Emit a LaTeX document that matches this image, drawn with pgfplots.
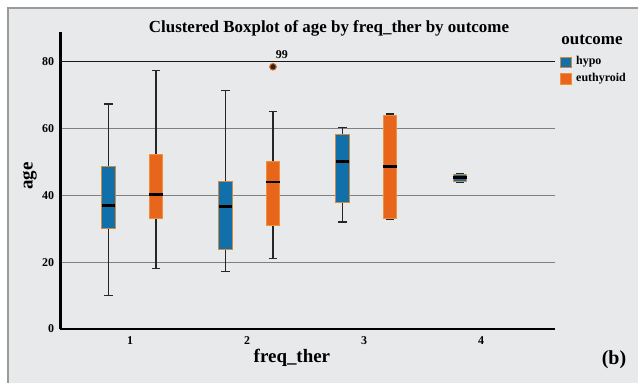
\documentclass[border=0pt]{standalone}
\usepackage{fontspec}
\setmainfont{Liberation Serif}
\usepackage{pgfplots}
\pgfplotsset{compat=1.18}
\usepgfplotslibrary{statistics}
\definecolor{bg}{HTML}{E8E9EB}
\definecolor{hypo}{HTML}{1170AA}
\definecolor{euth}{HTML}{E8661C}
\definecolor{hypoedge}{HTML}{D08A40}
\definecolor{euthedge}{HTML}{F0903A}
\definecolor{framec}{HTML}{9A9A9A}
\definecolor{gridc}{HTML}{808080}
\definecolor{whisk}{HTML}{262626}
\pgfplotsset{
  hypobox/.style={whisk, solid, mark=none,
     /pgfplots/boxplot/every box/.style={draw=hypoedge, fill=hypo, line width=0.8bp}},
  euthbox/.style={whisk, solid, mark=none,
     /pgfplots/boxplot/every box/.style={draw=euthedge, fill=euth, line width=0.8bp}},
}
\begin{document}
\begin{tikzpicture}
\useasboundingbox (0bp,0bp) rectangle (638bp,383bp);
\fill[white] (0bp,0bp) rectangle (638bp,383bp);
\fill[bg] (8bp,0bp) rectangle (638bp,375bp);
\draw[framec, line width=1.5bp] (8bp,-1bp) -- (8bp,375bp) -- (639bp,375bp);
\begin{axis}[
  at={(60.5bp,54bp)}, anchor=south west, scale only axis,
  width=494.5bp, height=297bp,
  xmin=0.406, xmax=4.632, ymin=0, ymax=88.8,
  axis lines=left, axis line style={-, black, line width=2bp},
  xtick={1,2,3,4}, ytick={0,20,40,60},
  extra y ticks={80},
  extra y tick style={major grid style={draw=black!90, line width=1.1bp}},
  major tick length=0pt,
  ymajorgrids, major grid style={draw=gridc, line width=1.1bp},
  /pgf/number format/assume math mode=true,
  tick label style={font=\bfseries\fontsize{12}{13}\selectfont},
  xticklabel style={yshift=-4bp},
  yticklabel style={xshift=-3bp},
  xlabel={freq\_ther}, ylabel={age},
  xlabel style={font=\bfseries\fontsize{19}{21}\selectfont, at={(axis description cs:0.468,-0.097)}, anchor=center},
  ylabel style={font=\bfseries\fontsize{19}{21}\selectfont, at={(axis description cs:-0.062,0.515)}, anchor=center},
  boxplot/draw direction=y,
  boxplot/box extend=0.114,
  boxplot/whisker extend=0.074,
  boxplot/every whisker/.style={draw=whisk, line width=1.2bp},
  boxplot/every median/.style={draw=black, line width=2.6bp},
  clip=false,
]
% group 1
\addplot[hypobox, boxplot prepared={draw position=0.815, lower whisker=10, lower quartile=30, median=37, upper quartile=48.5, upper whisker=67.3}] coordinates {};
\addplot[euthbox, boxplot prepared={draw position=1.222, lower whisker=18, lower quartile=33, median=40.2, upper quartile=52.2, upper whisker=77.2}] coordinates {};
% group 2
\addplot[hypobox, boxplot prepared={draw position=1.815, lower whisker=17.1, lower quartile=23.8, median=36.6, upper quartile=44, upper whisker=71.2}] coordinates {};
\addplot[euthbox, boxplot prepared={draw position=2.222, lower whisker=21, lower quartile=31.1, median=44, upper quartile=50.1, upper whisker=65}, mark=*, mark size=3.3bp, mark options={fill=black!85, draw=euth, line width=1bp}] coordinates {(0,78.4)};
% group 3
\addplot[hypobox, boxplot prepared={draw position=2.815, lower whisker=32, lower quartile=37.9, median=50.1, upper quartile=58.1, upper whisker=60.2}] coordinates {};
\addplot[euthbox, boxplot prepared={draw position=3.222, lower whisker=32.9, lower quartile=33.1, median=48.5, upper quartile=63.9, upper whisker=64.3}] coordinates {};
% group 4
\addplot[hypobox, boxplot prepared={draw position=3.82, lower whisker=43.7, lower quartile=44, median=45.3, upper quartile=46.2, upper whisker=46.4}] coordinates {};
\node[font=\bfseries\fontsize{12}{13}\selectfont] at (axis cs:2.297,82) {99};
\end{axis}
\node[font=\bfseries\fontsize{17}{19}\selectfont] at (329bp,355bp) {Clustered Boxplot of age by freq\_ther by outcome};
\node[font=\bfseries\fontsize{17}{19}\selectfont] at (592bp,343bp) {outcome};
% legend
\filldraw[draw=hypoedge, fill=hypo, line width=0.8bp] (560bp,316bp) rectangle (571bp,326bp);
\filldraw[draw=euthedge, fill=euth, line width=0.8bp] (560bp,299bp) rectangle (571bp,310bp);
\node[font=\bfseries\fontsize{12}{13}\selectfont, anchor=west, inner sep=0pt] at (576bp,321bp) {hypo};
\node[font=\bfseries\fontsize{12}{13}\selectfont, anchor=west, inner sep=0pt] at (576bp,304.5bp) {euthyroid};
\node[font=\bfseries\fontsize{20}{22}\selectfont] at (614bp,23bp) {(b)};
\end{tikzpicture}
\end{document}
